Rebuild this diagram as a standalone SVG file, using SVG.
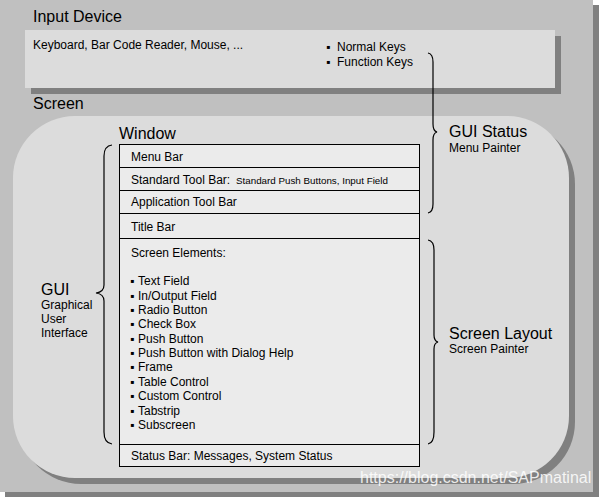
<svg xmlns="http://www.w3.org/2000/svg" width="599" height="497" viewBox="0 0 599 497">
<style>
text{font-family:"Liberation Sans",Arial,sans-serif;fill:#000}
.t16{font-size:16px}
.t12{font-size:12px}
.t9{font-size:9.8px}
.shadow{fill:#808080}
.light{fill:#dcdcdc}
.row{fill:none;stroke:#000;stroke-width:1}
.brace{fill:none;stroke:#000;stroke-width:1.2}
</style>
<g id="background">
<rect x="5" y="5" width="594" height="492" class="shadow"/>
<rect x="0" y="0" width="593" height="492" fill="#c0c0c0"/>
</g>
<g id="input-device">
<rect x="31" y="36" width="530" height="58" class="shadow"/>
<rect x="25" y="30" width="530" height="58" class="light"/>
<text x="33" y="22" class="t16">Input Device</text>
<text x="33" y="49" class="t12">Keyboard, Bar Code Reader, Mouse, ...</text>
<text class="t12" y="51"><tspan x="326">▪</tspan><tspan x="337">Normal Keys</tspan></text>
<text class="t12" y="66"><tspan x="326">▪</tspan><tspan x="337">Function Keys</tspan></text>
</g>
<g id="screen">
<text x="33" y="109" class="t16">Screen</text>
<rect x="19" y="122" width="556" height="362" rx="62" ry="62" class="shadow"/>
<rect x="13" y="116" width="556" height="362" rx="62" ry="62" class="light"/>
</g>
<g id="window">
<text x="119" y="139" class="t16">Window</text>
<rect x="119.5" y="144.5" width="300" height="322" fill="#ebebeb" stroke="#000"/>
<line x1="119.5" y1="167.5" x2="419.5" y2="167.5" class="row"/>
<line x1="119.5" y1="190.5" x2="419.5" y2="190.5" class="row"/>
<line x1="119.5" y1="213.5" x2="419.5" y2="213.5" class="row"/>
<line x1="119.5" y1="238.5" x2="419.5" y2="238.5" class="row"/>
<line x1="119.5" y1="444.5" x2="419.5" y2="444.5" class="row"/>
<text x="131" y="161" class="t12">Menu Bar</text>
<text x="131" y="184" class="t12">Standard Tool Bar: <tspan x="236" class="t9">Standard Push Buttons, Input Field</tspan></text>
<text x="131" y="206" class="t12">Application Tool Bar</text>
<text x="131" y="231" class="t12">Title Bar</text>
<text x="131" y="257" class="t12">Screen Elements:</text>
<text class="t12" y="285"><tspan x="130">▪</tspan><tspan x="138">Text Field</tspan></text>
<text class="t12" y="300"><tspan x="130">▪</tspan><tspan x="138">In/Output Field</tspan></text>
<text class="t12" y="314"><tspan x="130">▪</tspan><tspan x="138">Radio Button</tspan></text>
<text class="t12" y="328"><tspan x="130">▪</tspan><tspan x="138">Check Box</tspan></text>
<text class="t12" y="343"><tspan x="130">▪</tspan><tspan x="138">Push Button</tspan></text>
<text class="t12" y="357"><tspan x="130">▪</tspan><tspan x="138">Push Button with Dialog Help</tspan></text>
<text class="t12" y="371"><tspan x="130">▪</tspan><tspan x="138">Frame</tspan></text>
<text class="t12" y="386"><tspan x="130">▪</tspan><tspan x="138">Table Control</tspan></text>
<text class="t12" y="400"><tspan x="130">▪</tspan><tspan x="138">Custom Control</tspan></text>
<text class="t12" y="415"><tspan x="130">▪</tspan><tspan x="138">Tabstrip</tspan></text>
<text class="t12" y="429"><tspan x="130">▪</tspan><tspan x="138">Subscreen</tspan></text>
<text x="131" y="460" class="t12">Status Bar: Messages, System Status</text>
</g>
<g id="gui-label">
<text x="41" y="295" class="t16">GUI</text>
<text x="41" y="309" class="t12">Graphical</text>
<text x="41" y="323" class="t12">User</text>
<text x="41" y="337" class="t12">Interface</text>
</g>
<g id="gui-status-label">
<text x="449" y="137" class="t16">GUI Status</text>
<text x="449" y="152" class="t12">Menu Painter</text>
</g>
<g id="screen-layout-label">
<text x="449" y="339" class="t16">Screen Layout</text>
<text x="449" y="353" class="t12">Screen Painter</text>
</g>
<g id="connectors">
<path class="brace" d="M112,145 Q104,146 104,156 L104,285 Q104,292 96,293 Q104,294 104,301 L104,432 Q104,443 112,444"/>
<path class="brace" d="M428,53 Q433,54 433,62 L433,124 Q433,131 437,132 Q433,133 433,140 L433,204 Q433,212 428,213"/>
<path class="brace" d="M428,240 Q434,241 434,250 L434,335 Q434,341 438,342 Q434,343 434,349 L434,432 Q434,443 428,444"/>
</g>
<g id="watermark">
<text x="360" y="483" class="t16" style="fill:#ffffff;fill-opacity:0.85">https://blog.csdn.net/SAPmatinal</text>
</g>
</svg>
